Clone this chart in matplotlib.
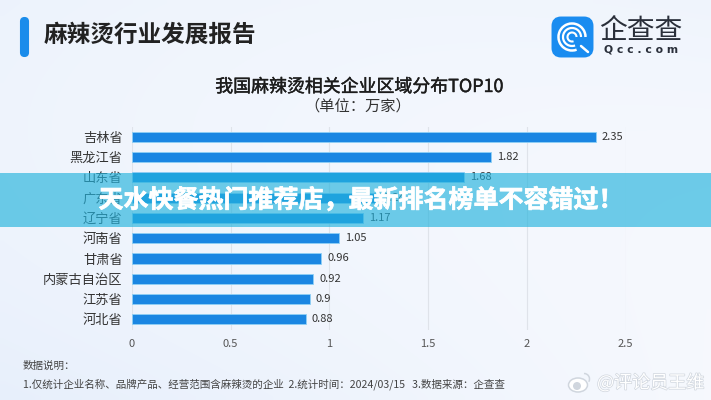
import numpy as np
import matplotlib.pyplot as plt
import matplotlib.patheffects as pe
from matplotlib.patches import Arc, Circle, Ellipse, FancyBboxPatch, Rectangle

plt.rcParams['font.family'] = ['Noto Sans CJK SC', 'DejaVu Sans']

# data
provinces = ['吉林省', '黑龙江省', '山东省', '广东省', '辽宁省', '河南省', '甘肃省', '内蒙古自治区', '江苏省', '河北省']
companies = [2.35, 1.82, 1.68, 1.24, 1.17, 1.05, 0.96, 0.92, 0.9, 0.88]
value_labels = ['2.35', '1.82', '1.68', '1.24', '1.17', '1.05', '0.96', '0.92', '0.9', '0.88']
x_ticks = [0, 0.5, 1, 1.5, 2, 2.5]
x_tick_labels = ['0', '0.5', '1', '1.5', '2', '2.5']

W, H = 711, 400
fig = plt.figure(figsize=(W / 100, H / 100), dpi=100)

# page background, pale blue wash
bg = fig.add_axes([0, 0, 1, 1], zorder=0)
yy, xx = np.mgrid[0:1:60j, 0:1:100j]
wash = np.clip(0.55 * (1 - xx) * yy ** 2 + 0.35 * (1 - yy) * (1 - xx) ** 2 + 0.25 * xx * (1 - yy) ** 3, 0, 1)
light = np.array([0.965, 0.975, 0.995])
blue = np.array([0.86, 0.91, 0.98])
img = light + (blue - light) * wash[..., None]
bg.imshow(img, extent=[0, W, H, 0], aspect='auto', interpolation='bilinear')
bg.axis('off')

# bar chart, placed in pixels
left, right, top, bottom = 131.7, 625.7, 127, 329.5
ax = fig.add_axes([left / W, 1 - bottom / H, (right - left) / W, (bottom - top) / H], zorder=1)
ax.patch.set_alpha(0)
y_pos = np.arange(len(provinces))
ax.barh(y_pos, companies, height=0.5, color='#1a86e2', edgecolor='#8fd0f5', linewidth=0.6, zorder=3)
for y, v, lab in zip(y_pos, companies, value_labels):
    ax.text(v + 0.03, y, lab, va='center', ha='left', fontsize=8, color='#333333', zorder=4)
ax.set_xlim(0, 2.5)
ax.set_ylim(9.5, -0.48)
ax.set_xticks(x_ticks)
ax.set_xticklabels(x_tick_labels, fontsize=8, color='#555555')
ax.set_yticks(y_pos)
ax.set_yticklabels(provinces, fontsize=9.5, color='#333333')
ax.tick_params(axis='both', length=0)
ax.tick_params(axis='x', pad=7)
ax.tick_params(axis='y', pad=6.5)
ax.grid(axis='x', color='#dfe3ea', linewidth=0.8, zorder=0)
for side in ax.spines.values():
    side.set_visible(False)

# everything else in pixel coordinates on top
over = fig.add_axes([0, 0, 1, 1], zorder=2)
over.set_xlim(0, W)
over.set_ylim(H, 0)
over.axis('off')

# header
over.add_patch(FancyBboxPatch((21, 18), 7, 38, boxstyle='round,pad=0,rounding_size=3.5',
                              fc='#1a8ceb', ec='#1a8ceb', lw=1.5))
over.text(44, 35, '麻辣烫行业发展报告', fontsize=17, fontweight='bold', color='#222222', va='center', ha='left')

# logo
over.add_patch(FancyBboxPatch((555, 20), 35, 34, boxstyle='round,pad=0,rounding_size=6',
                              fc='#1a8cf0', ec='#1a8cf0', lw=5))
cx, cy = 572, 37
for d, lw in zip([27, 18, 9], [1.8, 1.6, 1.5]):
    over.add_patch(Arc((cx, cy), d, d, theta1=70, theta2=360, color='white', lw=lw))
over.plot([cx + 9, cx + 16], [cy + 9, cy + 15], color='white', lw=1.8, solid_capstyle='round')
over.text(641, 31, '企查查', fontsize=20, color='#2a2f3a', ha='center', va='center')
over.text(641, 50, 'Q c c . c o m', fontsize=7.8, color='#2a2f3a', ha='center', va='center',
          family='DejaVu Sans', fontweight='bold')

# chart title
over.text(359, 87, '我国麻辣烫相关企业区域分布TOP10', fontsize=12.9, fontweight='medium', color='#1c1c1c', ha='center', va='center',
          path_effects=[pe.withStroke(linewidth=0.3, foreground='#1c1c1c')])
over.text(358, 106.5, '（单位：万家）', fontsize=11, color='#333333', ha='center', va='center')

# notes
over.text(23, 366, '数据说明：', fontsize=7.6, color='#444444', ha='left', va='center')
over.text(23, 384, '1.仅统计企业名称、品牌产品、经营范围含麻辣烫的企业  2.统计时间：2024/03/15   3.数据来源：企查查',
          fontsize=7.6, color='#444444', ha='left', va='center')

# headline band across the picture
over.add_patch(Rectangle((0, 173), W, 54, fc='#23b3dd', ec='none', alpha=0.65))
over.text(361, 200, '天水快餐热门推荐店，最新排名榜单不容错过！', fontsize=18, fontweight='bold', color='white',
          ha='center', va='center',
          path_effects=[pe.withStroke(linewidth=0.5, foreground='white')])

# watermark
wm_fx = [pe.withStroke(linewidth=1.0, foreground='#d0d6de')]
over.text(597, 383, '@评论员王维', fontsize=13, color='white', ha='left', va='center', path_effects=wm_fx)
over.add_patch(Ellipse((578, 385), 19, 14, fc='white', ec='#d0d6de', lw=1.1))
over.add_patch(Circle((577, 386), 4, fc='#d0d6de', ec='none'))
over.add_patch(Arc((584, 379), 11, 11, theta1=270, theta2=30, color='#d0d6de', lw=1.1))

fig.savefig('out.png', dpi=100)
